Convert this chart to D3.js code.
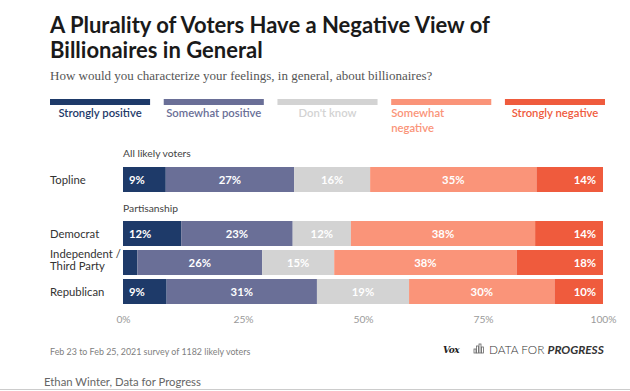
<!DOCTYPE html>
<html>
<head>
<meta charset="utf-8">
<script src="https://cdn.jsdelivr.net/npm/d3@7"></script>
<style>
  body { margin: 0; background: #fff; }
  svg { display: block; font-family: "Lato", "Open Sans", sans-serif; }
</style>
</head>
<body>
<div id="chart"></div>
<script>
// categories and answer options
var rows = ["Topline", "Democrat", "Independent / Third Party", "Republican"];
var groups = ["All likely voters", "Partisanship"];
var answers = ["Strongly positive", "Somewhat positive", "Don't know", "Somewhat negative", "Strongly negative"];
var colors = ["#1e3a69", "#6a6f97", "#d3d3d3", "#fa9479", "#ef5b3d"];

// percentages per answer, one value for each row
var stronglyPositive = [9, 12, 3, 9];
var somewhatPositive = [27, 23, 26, 31];
var dontKnow = [16, 12, 15, 19];
var somewhatNegative = [35, 38, 38, 30];
var stronglyNegative = [14, 14, 18, 10];

var ticks = [0, 25, 50, 75, 100];

var W = 630, H = 391;
var x0 = 123, x1 = 603;

var svg = d3.select("#chart").append("svg")
    .attr("width", W)
    .attr("height", H);

svg.append("rect").attr("width", W).attr("height", H).attr("fill", "#fff");

// title + subtitle
var title = svg.append("text")
    .attr("x", 50).attr("y", 33)
    .attr("fill", "#1a1a1a")
    .style("font-size", "22px")
    .style("font-weight", 700);
title.append("tspan").attr("x", 50).text("A Plurality of Voters Have a Negative View of");
title.append("tspan").attr("x", 50).attr("dy", 24.5).text("Billionaires in General");

svg.append("text")
    .attr("x", 50).attr("y", 80)
    .attr("fill", "#555")
    .style("font-family", "'Liberation Serif', serif")
    .style("font-size", "13px")
    .text("How would you characterize your feelings, in general, about billionaires?");

// legend
var legendX = d3.scaleBand().domain(answers).range([50, 605]).paddingInner(0.12);

var legend = svg.append("g").selectAll("g")
    .data(answers)
    .enter().append("g");

legend.append("rect")
    .attr("x", function (d) { return legendX(d); })
    .attr("y", 99)
    .attr("width", legendX.bandwidth())
    .attr("height", 6)
    .attr("fill", function (d, i) { return colors[i]; });

legend.append("text")
    .attr("fill", function (d, i) { return colors[i]; })
    .style("font-size", "11.3px")
    .style("font-weight", 600)
    .each(function (d, i) {
        var t = d3.select(this);
        if (d === "Somewhat negative") {
            t.attr("text-anchor", "start").attr("y", 117);
            t.append("tspan").attr("x", legendX(d)).text("Somewhat");
            t.append("tspan").attr("x", legendX(d)).attr("dy", 15).text("negative");
        } else {
            t.attr("text-anchor", "middle")
                .attr("x", legendX(d) + legendX.bandwidth() / 2)
                .attr("y", 117)
                .text(d);
        }
    });

// bars
var x = d3.scaleLinear().domain([0, 100]).range([x0, x1]);
var rowY = {"Topline": 167, "Democrat": 221, "Independent / Third Party": 250, "Republican": 279};
var barH = 25;

var table = rows.map(function (r, i) {
    var vals = [stronglyPositive[i], somewhatPositive[i], dontKnow[i], somewhatNegative[i], stronglyNegative[i]];
    var total = d3.sum(vals);
    var acc = 0;
    return vals.map(function (v, j) {
        var seg = {row: r, answer: j, value: v, start: acc / total * 100, end: (acc + v) / total * 100};
        acc += v;
        return seg;
    });
});

var bars = svg.append("g");
table.forEach(function (segs) {
    var g = bars.append("g");
    g.selectAll("rect")
        .data(segs)
        .enter().append("rect")
        .attr("x", function (d) { return x(d.start); })
        .attr("y", function (d) { return rowY[d.row]; })
        .attr("width", function (d) { return x(d.end) - x(d.start); })
        .attr("height", barH)
        .attr("fill", function (d) { return colors[d.answer]; });

    g.selectAll("text")
        .data(segs.filter(function (d) { return d.value >= 5; }))
        .enter().append("text")
        .attr("x", function (d) {
            if (d.answer === 0) return x(d.start) + 6;
            if (d.answer === 4) return x(d.end) - 7;
            return (x(d.start) + x(d.end)) / 2;
        })
        .attr("y", function (d) { return rowY[d.row] + barH / 2 + 4; })
        .attr("text-anchor", function (d) {
            return d.answer === 0 ? "start" : d.answer === 4 ? "end" : "middle";
        })
        .attr("fill", "#fff")
        .style("font-size", "11.3px")
        .style("font-weight", 700)
        .text(function (d) { return d.value + "%"; });
});

// row labels
var rowLabels = svg.append("g");
rows.forEach(function (r) {
    var t = rowLabels.append("text")
        .attr("x", 50)
        .attr("fill", "#333")
        .style("font-size", "11.3px");
    if (r === "Independent / Third Party") {
        t.attr("y", rowY[r] + 8);
        t.append("tspan").attr("x", 50).text("Independent /");
        t.append("tspan").attr("x", 50).attr("dy", 12).text("Third Party");
    } else {
        t.attr("y", rowY[r] + barH / 2 + 4).text(r);
    }
});

// group labels
svg.append("g").selectAll("text")
    .data(groups)
    .enter().append("text")
    .attr("x", x0)
    .attr("y", function (d, i) { return i === 0 ? 157 : 212; })
    .attr("fill", "#444")
    .style("font-size", "10.3px")
    .text(function (d) { return d; });

// x axis labels
var axis = svg.append("g")
    .attr("transform", "translate(0,313)")
    .call(d3.axisBottom(x).tickValues(ticks).tickSize(0).tickFormat(function (d) { return d + "%"; }));
axis.select(".domain").remove();
axis.selectAll("text")
    .attr("fill", "#9a9a9a")
    .style("font-size", "10.3px")
    .style("font-family", "Lato, sans-serif");

// footnote
svg.append("text")
    .attr("x", 50).attr("y", 355)
    .attr("fill", "#808080")
    .style("font-size", "8.9px")
    .text("Feb 23 to Feb 25, 2021 survey of 1182 likely voters");

// logos
svg.append("text")
    .attr("x", 443).attr("y", 353)
    .attr("fill", "#222")
    .style("font-family", "'DejaVu Serif', serif")
    .style("font-style", "italic")
    .style("font-weight", 700)
    .style("font-size", "9px")
    .style("letter-spacing", "-0.5px")
    .text("Vox");

var icon = svg.append("g").attr("fill", "none").attr("stroke", "#666").attr("stroke-width", 0.8);
[[474, 349, 4], [476.5, 346, 7], [479, 344, 9], [481.5, 347, 6]].forEach(function (b) {
    icon.append("rect").attr("x", b[0]).attr("y", b[1]).attr("width", 2).attr("height", b[2]);
});

var dfp = svg.append("text")
    .attr("x", 489).attr("y", 354)
    .attr("fill", "#333")
    .style("font-size", "11.8px");
dfp.append("tspan").style("font-weight", 300).text("DATA FOR ");
dfp.append("tspan").style("font-weight", 700).style("font-style", "italic").text("PROGRESS");

// credit
svg.append("text")
    .attr("x", 44).attr("y", 386)
    .attr("fill", "#666")
    .style("font-size", "11.3px")
    .text("Ethan Winter, Data for Progress");

svg.append("line")
    .attr("x1", 0).attr("x2", W)
    .attr("y1", 389.5).attr("y2", 389.5)
    .attr("stroke", "#ccc");
</script>
</body>
</html>
